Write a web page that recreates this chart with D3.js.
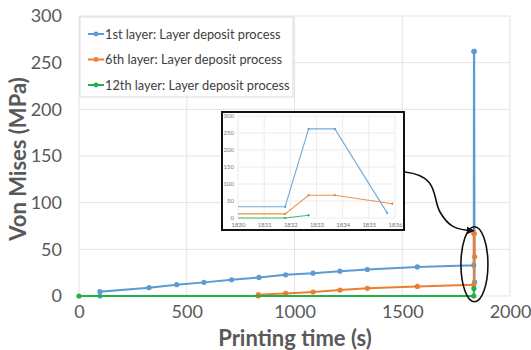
<!DOCTYPE html>
<html>
<head>
<meta charset="utf-8">
<script src="https://cdn.jsdelivr.net/npm/d3@7"></script>
<style>
  body { margin: 0; background: #fff; }
  svg { display: block; font-family: Lato, "Open Sans", sans-serif; }
</style>
</head>
<body>
<div id="container"></div>
<script>
// rozměry
const width = 531;
const height = 350;

// data (čas v s, napětí v MPa)
const blueTime = [97, 97, 325, 453, 580, 708, 835, 959, 1086, 1211, 1338, 1570, 1831.8, 1832.7, 1833.7, 1835.7];
const blueVal  = [0, 4.6, 8.9, 12.1, 14.6, 17.4, 19.9, 22.7, 24.5, 26.6, 28.4, 31.2, 33, 262, 262, 15];
const orangeTime = [832, 832, 959, 1086, 1211, 1338, 1570, 1831.8, 1832.7, 1833.7, 1835.9];
const orangeVal  = [0, 1.5, 2.8, 4.3, 6.4, 8.2, 10.3, 12, 67, 67, 42];
const greenTime = [0, 1831.8, 1832.7];
const greenVal  = [0, 0, 8];

const seriesNames = ["1st layer: Layer deposit process", "6th layer: Layer deposit process", "12th layer: Layer deposit process"];
const colors = ["#5b9bd5", "#ed7d31", "#22b04b"];

const yTicks = [0, 50, 100, 150, 200, 250, 300];
const xTicks = [0, 500, 1000, 1500, 2000];
const insetXTicks = [1830, 1831, 1832, 1833, 1834, 1835, 1836];
const insetYTicks = [0, 50, 100, 150, 200, 250, 300];

const series = [
  { name: seriesNames[0], color: colors[0], pts: blueTime.map((t, i) => ({ t, v: blueVal[i] })) },
  { name: seriesNames[1], color: colors[1], pts: orangeTime.map((t, i) => ({ t, v: orangeVal[i] })) },
  { name: seriesNames[2], color: colors[2], pts: greenTime.map((t, i) => ({ t, v: greenVal[i] })) }
];

// hlavní osy
const x = d3.scaleLinear().domain([0, 2000]).range([79, 510]);
const y = d3.scaleLinear().domain([0, 300]).range([296, 16]);

const svg = d3.create("svg").attr("width", width).attr("height", height);
svg.append("rect").attr("width", width).attr("height", height).attr("fill", "#fff");

// mřížka
svg.append("g").selectAll("line").data(yTicks).join("line")
  .attr("x1", x(0)).attr("x2", x(2000))
  .attr("y1", d => y(d)).attr("y2", d => y(d))
  .attr("stroke", "#e3e3e3").attr("stroke-width", 1);
svg.append("g").selectAll("line").data(xTicks).join("line")
  .attr("x1", d => x(d)).attr("x2", d => x(d))
  .attr("y1", y(0)).attr("y2", y(300))
  .attr("stroke", "#e3e3e3").attr("stroke-width", 1);

// popisky os
const yAxis = svg.append("g").attr("transform", `translate(${x(0)},0)`)
  .call(d3.axisLeft(y).tickValues(yTicks).tickSize(0).tickPadding(17));
const xAxis = svg.append("g").attr("transform", `translate(0,${y(0)})`)
  .call(d3.axisBottom(x).tickValues(xTicks).tickFormat(d3.format("d")).tickSize(0).tickPadding(9));
[yAxis, xAxis].forEach(a => {
  a.select(".domain").remove();
  a.selectAll("text").attr("fill", "#595959").style("font-size", "18px")
    .style("font-family", "Lato, sans-serif");
});

// linie
const line = d3.line().x(d => x(d.t)).y(d => y(d.v));
series.forEach(s => {
  svg.append("path").datum(s.pts)
    .attr("fill", "none").attr("stroke", s.color).attr("stroke-width", 2)
    .attr("d", line);
  svg.append("g").selectAll("circle").data(s.pts).join("circle")
    .attr("cx", d => x(d.t)).attr("cy", d => y(d.v)).attr("r", 2.6)
    .attr("fill", s.color);
});

// legenda
const legend = svg.append("g");
legend.append("rect").attr("x", 80).attr("y", 17).attr("width", 213).attr("height", 80)
  .attr("fill", "#fff").attr("stroke", "#d9d9d9");
series.forEach((s, i) => {
  const ly = 34 + i * 25.5;
  legend.append("line").attr("x1", 88).attr("x2", 104).attr("y1", ly).attr("y2", ly)
    .attr("stroke", s.color).attr("stroke-width", 2);
  legend.append("circle").attr("cx", 96).attr("cy", ly).attr("r", 2.4).attr("fill", s.color);
  legend.append("text").attr("x", 105).attr("y", ly + 4.5)
    .attr("fill", "#404040").style("font-size", "12.8px").style("font-family", "Lato, sans-serif")
    .text(s.name);
});

// názvy os
svg.append("text")
  .attr("transform", `translate(26,${(y(0) + y(300)) / 2 + 3}) rotate(-90)`)
  .attr("text-anchor", "middle").attr("fill", "#595959")
  .style("font-size", "22px").style("font-weight", "bold")
  .text("Von Mises (MPa)");
svg.append("text")
  .attr("x", 295).attr("y", 346)
  .attr("text-anchor", "middle").attr("fill", "#595959")
  .style("font-size", "22px").style("font-weight", "bold")
  .text("Printing time (s)");

// výřez (inset)
const ix = d3.scaleLinear().domain([1830, 1836]).range([238, 395]);
const iy = d3.scaleLinear().domain([0, 300]).range([218, 116]);
const inset = svg.append("g");
inset.append("rect").attr("x", 222).attr("y", 112).attr("width", 182).attr("height", 118)
  .attr("fill", "#fff").attr("stroke", "#111").attr("stroke-width", 2);
inset.append("g").selectAll("line").data(insetYTicks).join("line")
  .attr("x1", ix(1830)).attr("x2", ix(1836)).attr("y1", d => iy(d)).attr("y2", d => iy(d))
  .attr("stroke", "#ececec");
inset.append("g").selectAll("line").data(insetXTicks).join("line")
  .attr("x1", d => ix(d)).attr("x2", d => ix(d)).attr("y1", iy(0)).attr("y2", iy(300))
  .attr("stroke", "#ececec");
const iyAxis = inset.append("g").attr("transform", `translate(${ix(1830)},0)`)
  .call(d3.axisLeft(iy).tickValues(insetYTicks).tickSize(0).tickPadding(4));
const ixAxis = inset.append("g").attr("transform", `translate(0,${iy(0)})`)
  .call(d3.axisBottom(ix).tickValues(insetXTicks).tickFormat(d3.format("d")).tickSize(0).tickPadding(5));
[iyAxis, ixAxis].forEach(a => {
  a.select(".domain").remove();
  a.selectAll("text").attr("fill", "#777").style("font-size", "6px")
    .style("font-family", "Lato, sans-serif");
});
svg.append("clipPath").attr("id", "insetClip").append("rect")
  .attr("x", ix(1830)).attr("y", iy(300)).attr("width", ix(1836) - ix(1830)).attr("height", iy(0) - iy(300) + 2);
const iline = d3.line().x(d => ix(d.t)).y(d => iy(d.v));
const insetPlot = inset.append("g").attr("clip-path", "url(#insetClip)");
series.forEach(s => {
  insetPlot.append("path").datum(s.pts)
    .attr("fill", "none").attr("stroke", s.color).attr("stroke-width", 1.1).attr("opacity", 0.85)
    .attr("d", iline);
  insetPlot.append("g").selectAll("circle").data(s.pts.filter(d => d.t >= 1830)).join("circle")
    .attr("cx", d => ix(d.t)).attr("cy", d => iy(d.v)).attr("r", 1.1).attr("fill", s.color);
});

// elipsa a šipka
svg.append("defs").append("marker").attr("id", "arrow")
  .attr("viewBox", "0 0 10 10").attr("refX", 9).attr("refY", 5)
  .attr("markerWidth", 5).attr("markerHeight", 5).attr("orient", "auto")
  .append("path").attr("d", "M0,0 L10,5 L0,10 z").attr("fill", "#111");
svg.append("ellipse")
  .attr("cx", x(1835)).attr("cy", y(34)).attr("rx", 13.5).attr("ry", 37.5)
  .attr("fill", "none").attr("stroke", "#111").attr("stroke-width", 1.6);
svg.append("path")
  .attr("d", `M405,172 C440,176 432,198 440,212 C448,226 455,230 ${x(1832)},${y(70)}`)
  .attr("fill", "none").attr("stroke", "#111").attr("stroke-width", 1.6)
  .attr("marker-end", "url(#arrow)");

container.append(svg.node());
</script>
</body>
</html>
